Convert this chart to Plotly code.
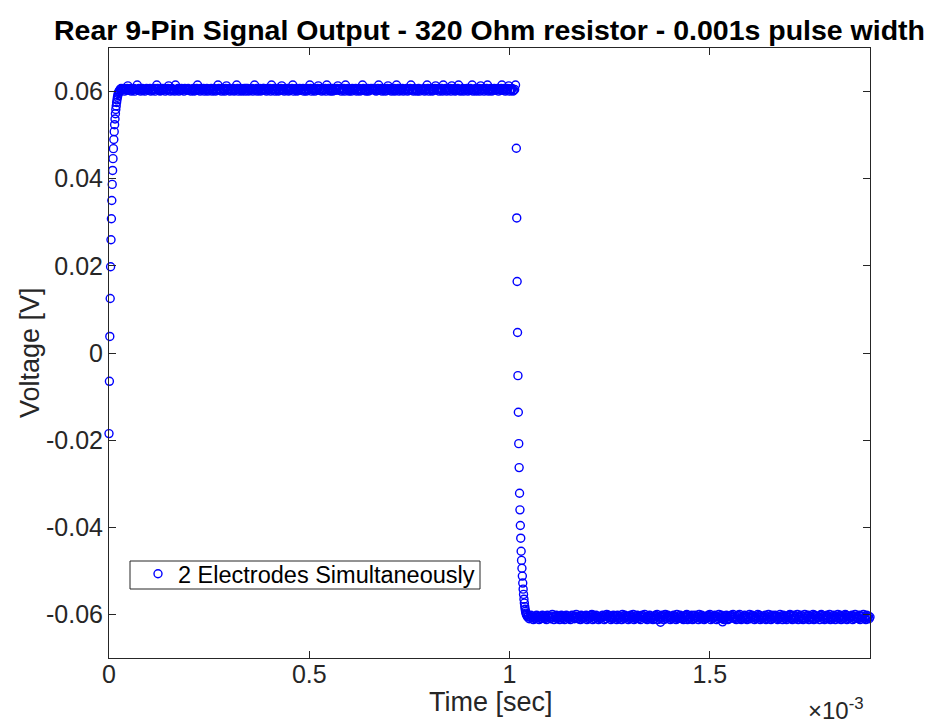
import numpy as np
import plotly.graph_objects as go

# ---------------- data (time in seconds, voltage in volts) ----------------
SAMPLE_DT = 1e-6  # oscilloscope sample interval on the edges

# rising edge, samples from t = 0
rise_v = [-0.0185, -0.0065, 0.0038, 0.0125, 0.0198, 0.0260, 0.0308, 0.0350,
          0.0387, 0.0419, 0.0446, 0.0469, 0.0490, 0.0508, 0.0524, 0.0537,
          0.0549, 0.0559, 0.0567, 0.0575, 0.0581, 0.0587, 0.0591, 0.0595,
          0.0598, 0.0600, 0.0602]

# flat "on" level, quantised readings: V = TOP_BASE + TOP_STEP * digit
TOP_START, TOP_END = 28e-6, 1015e-6
TOP_BASE, TOP_STEP = 0.0599, 0.0002
top_digits = (
    "34234132472341234133824312432134323412324138432124"
    "23413247312432183241324231432342313241234823142341"
    "32413234123412384231432147234123241238413241234142"
    "41232413824132412344231423418234132412347231423412"
    "23481324123423341231423841324132472341232418342134"
    "12432472341324183241231432341234123842312413243342"
    "31248234123412473241324128341232413234123482314231"
    "24133234123841324123472341324182341232417324123482"
    "13241323412342813241234172341324812341234323413248"
    "2341234713241238"
)

# falling edge, samples from t = 1.017 ms
FALL_START = 1017e-6
fall_v = [0.0470, 0.0310, 0.0164, 0.0047, -0.0052, -0.0136, -0.0208, -0.0263,
          -0.0322, -0.0360, -0.0396, -0.0425, -0.0455, -0.0476, -0.0494,
          -0.0512, -0.0528, -0.0542, -0.0554, -0.0565, -0.0574, -0.0582,
          -0.0588, -0.0593, -0.0597, -0.0600, -0.0602]

# flat "off" level, quantised readings: V = BOT_BASE + BOT_STEP * digit
BOT_START, BOT_END = 1045e-6, 1900e-6
BOT_BASE, BOT_STEP = -0.0600, -0.0002
bottom_digits = (
    "32531426352143625314253612435203642153264135263142"
    "53621435203542613524316253410625314263524136250314"
    "26351423615342603514236251430625413526314205362415"
    "43625130642531462053142635214360524135264310625341"
    "62513426035142635241306254312635024153624136523140"
    "35264120563421536240531426352041635243165302461532"
    "14265302461352643105264135206431526402531643250613"
    "52436103526421530642513624053162453016253421635024"
    "3516242053614253"
)

# two low outliers on the "off" level
outlier_t = [1.377e-3, 1.532e-3]
outlier_v = [-0.0618, -0.0617]

x_tickvals = [0, 0.5e-3, 1.0e-3, 1.5e-3]
x_ticktext = ["0", "0.5", "1", "1.5"]
y_tickvals = [-0.06, -0.04, -0.02, 0, 0.02, 0.04, 0.06]
y_ticktext = ["-0.06", "-0.04", "-0.02", "0", "0.02", "0.04", "0.06"]

TITLE = "Rear 9-Pin Signal Output - 320 Ohm resistor - 0.001s pulse width"
SERIES_NAME = "2 Electrodes Simultaneously"
X_LABEL = "Time [sec]"
Y_LABEL = "Voltage [V]"
X_EXPONENT = "×10<sup>-3</sup>"

# ---------------- assemble series ----------------
rise_t = np.arange(len(rise_v)) * SAMPLE_DT
top_v = TOP_BASE + TOP_STEP * np.array([int(c) for c in top_digits])
top_t = np.linspace(TOP_START, TOP_END, len(top_v))
fall_t = FALL_START + np.arange(len(fall_v)) * SAMPLE_DT
bot_v = BOT_BASE + BOT_STEP * np.array([int(c) for c in bottom_digits])
bot_t = np.linspace(BOT_START, BOT_END, len(bot_v))

t = np.concatenate([rise_t, top_t, fall_t, bot_t, outlier_t])
v = np.concatenate([rise_v, top_v, fall_v, bot_v, outlier_v])
order = np.argsort(t, kind="stable")
t, v = t[order], v[order]

# ---------------- figure ----------------
W, H = 928, 723
ML, MR, MT, MB = 109, 58, 48, 65
PW, PH = W - ML - MR, H - MT - MB


def px_x(px):  # page pixel -> paper x
    return (px - ML) / PW


def px_y(py):  # page pixel -> paper y
    return (H - MB - py) / PH


FONT = "Liberation Sans, Arial, Helvetica, sans-serif"
AX = "#262626"
BLUE = "rgb(0,0,255)"

fig = go.Figure()
fig.add_trace(go.Scatter(
    x=t, y=v, mode="markers", name=SERIES_NAME, cliponaxis=False,
    marker=dict(symbol="circle-open", size=8, color=BLUE,
                line=dict(width=1.4, color=BLUE)),
))

axis_common = dict(
    showgrid=False, zeroline=False, showline=True, linecolor=AX, linewidth=1,
    mirror="ticks", ticks="inside", ticklen=7, tickwidth=1, tickcolor=AX,
    tickfont=dict(family=FONT, size=25, color=AX), automargin=False,
)

fig.update_layout(
    width=W, height=H,
    margin=dict(l=ML, r=MR, t=MT, b=MB),
    paper_bgcolor="white", plot_bgcolor="white",
    font=dict(family=FONT, color=AX),
    title=dict(text=TITLE, x=0.5, xref="paper", xanchor="center",
               y=1 - 30 / H, yref="container", yanchor="middle",
               font=dict(family=FONT, size=28.5, color="black", weight="bold")),
    xaxis=dict(range=[0, 1.9e-3], tickvals=x_tickvals, ticktext=x_ticktext,
               ticklabelstandoff=-6, **axis_common),
    yaxis=dict(range=[-0.07, 0.07], tickvals=y_tickvals, ticktext=y_ticktext,
               **axis_common),
    showlegend=True,
    legend=dict(x=px_x(138), y=px_y(552), xanchor="left", yanchor="top",
                bgcolor="rgba(0,0,0,0)", borderwidth=0,
                font=dict(family=FONT, size=23.5, color="black"),
                itemsizing="trace"),
)

# legend frame
fig.add_shape(type="rect", xref="paper", yref="paper",
              x0=px_x(130), x1=px_x(480), y0=px_y(589), y1=px_y(561),
              line=dict(color=AX, width=1), fillcolor="white", layer="below")

# axis titles and exponent
fig.add_annotation(text=X_LABEL, xref="paper", yref="paper",
                   x=px_x(491), y=px_y(702), xanchor="center", yanchor="middle",
                   showarrow=False, font=dict(family=FONT, size=27, color=AX))
fig.add_annotation(text=Y_LABEL, xref="paper", yref="paper", textangle=-90,
                   x=px_x(30), y=px_y(353), xanchor="center", yanchor="middle",
                   showarrow=False, font=dict(family=FONT, size=27, color=AX))
fig.add_annotation(text=X_EXPONENT, xref="paper", yref="paper",
                   x=px_x(866), y=px_y(709), xanchor="right", yanchor="middle",
                   showarrow=False, font=dict(family=FONT, size=24, color=AX))

# remove the browser's default 8px page margin so the figure sits at (0, 0)
fig.write_html("out.html",
               config={"displayModeBar": False},
               post_script="document.body.style.margin='0';"
                           "document.body.style.overflow='hidden';")
